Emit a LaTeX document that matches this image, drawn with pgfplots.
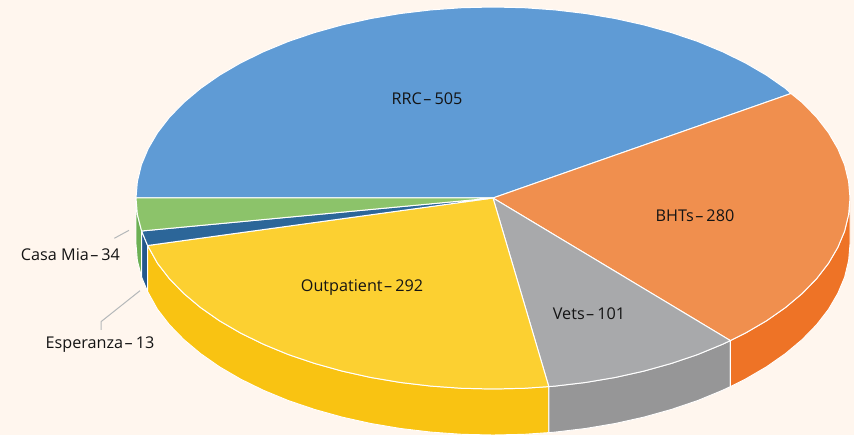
\documentclass[border=0pt]{standalone}
\usepackage{pgfplots}
\usepackage{fontspec}
\setmainfont{Open Sans}
\pgfplotsset{compat=1.18}
\definecolor{bg}{HTML}{FFF6EE}
\definecolor{cblue}{HTML}{5F9BD5}
\definecolor{corange}{HTML}{F08F4E}
\definecolor{corangew}{HTML}{EE7326}
\definecolor{cgray}{HTML}{A8A9AB}
\definecolor{cgrayw}{HTML}{969697}
\definecolor{cyellow}{HTML}{FCD031}
\definecolor{cyelloww}{HTML}{F9C312}
\definecolor{cdblue}{HTML}{2C6699}
\definecolor{cdbluew}{HTML}{24588C}
\definecolor{cgreen}{HTML}{8CC36A}
\definecolor{cgreenw}{HTML}{6DB054}
\definecolor{leader}{HTML}{B5B8BA}
\tikzset{lab/.style={font=\fontsize{16.2}{18}\selectfont, text=black!92, inner sep=0pt, anchor=center}}
\begin{document}
\begin{tikzpicture}
\begin{axis}[
  scale only axis, width=854pt, height=435pt,
  xmin=0, xmax=854, ymin=0, ymax=435, y dir=reverse,
  hide axis, clip=true,
  every axis plot/.append style={line join=round},
]
% background
\addplot[fill=bg, draw=none] coordinates {(0,0)(854,0)(854,435)(0,435)} --cycle;
% walls
\addplot[fill=cgreenw, draw=white, line width=0.9pt] coordinates {(136,198)(137.4,214.6)(141.6,231)(141.6,277)(137.4,260.6)(136,244)} --cycle;
\addplot[fill=cdbluew, draw=white, line width=0.9pt] coordinates {(141.6,231)(147.6,245.5)(147.6,291.5)(141.6,277)} --cycle;
\addplot[fill=cyelloww, draw=white, line width=0.9pt] coordinates {(548.8,386.6)(524.1,388.3)(493,389)(461.9,388.3)(431,386.1)(400.6,382.5)(370.9,377.5)(342.1,371.1)(314.5,363.4)(288.2,354.5)(263.5,344.3)(240.6,333.1)(219.5,320.8)(200.6,307.6)(183.8,293.5)(169.4,278.7)(157.5,263.3)(147.6,245.5)(147.6,291.5)(157.5,309.3)(169.4,324.7)(183.8,339.5)(200.6,353.6)(219.5,366.8)(240.6,379.1)(263.5,390.3)(288.2,400.5)(314.5,409.4)(342.1,417.1)(370.9,423.5)(400.6,428.5)(431,432.1)(461.9,434.3)(493,435)(524.1,434.3)(548.8,432.6)} --cycle;
\addplot[fill=cgrayw, draw=white, line width=0.9pt] coordinates {(730.4,340.6)(722.5,344.3)(697.8,354.5)(671.5,363.4)(643.9,371.1)(615.1,377.5)(585.4,382.5)(555,386.1)(548.8,386.6)(548.8,432.6)(555,432.1)(585.4,428.5)(615.1,423.5)(643.9,417.1)(671.5,409.4)(697.8,400.5)(722.5,390.3)(730.4,386.6)} --cycle;
\addplot[fill=corangew, draw=white, line width=0.9pt] coordinates {(850,198)(848.6,214.6)(844.6,231.2)(837.8,247.4)(828.5,263.3)(816.6,278.7)(802.2,293.5)(785.4,307.6)(766.5,320.8)(745.4,333.1)(730.4,340.6)(730.4,386.6)(745.4,379.1)(766.5,366.8)(785.4,353.6)(802.2,339.5)(816.6,324.7)(828.5,309.3)(837.8,293.4)(844.6,277.2)(848.6,260.6)(850,244)} --cycle;
% top face
\addplot[fill=cblue, draw=white, line width=1pt] coordinates {(493,198)(136,198)(137.4,181.4)(141.4,164.8)(148.2,148.6)(157.5,132.7)(169.4,117.3)(183.8,102.5)(200.6,88.4)(219.5,75.2)(240.6,62.9)(263.5,51.7)(288.2,41.5)(314.5,32.6)(342.1,24.9)(370.9,18.5)(400.6,13.5)(431,9.9)(461.9,7.7)(493,7)(524.1,7.7)(555,9.9)(585.4,13.5)(615.1,18.5)(643.9,24.9)(671.5,32.6)(697.8,41.5)(722.5,51.7)(745.4,62.9)(766.5,75.2)(785.4,88.4)(791,93.5)} --cycle;
\addplot[fill=corange, draw=white, line width=1pt] coordinates {(493,198)(791,93.5)(802.2,102.5)(816.6,117.3)(828.5,132.7)(837.8,148.6)(844.6,164.8)(848.6,181.4)(850,198)(848.6,214.6)(844.6,231.2)(837.8,247.4)(828.5,263.3)(816.6,278.7)(802.2,293.5)(785.4,307.6)(766.5,320.8)(745.4,333.1)(730.4,340.6)} --cycle;
\addplot[fill=cgray, draw=white, line width=1pt] coordinates {(493,198)(730.4,340.6)(722.5,344.3)(697.8,354.5)(671.5,363.4)(643.9,371.1)(615.1,377.5)(585.4,382.5)(555,386.1)(548.8,386.6)} --cycle;
\addplot[fill=cyellow, draw=white, line width=1pt] coordinates {(493,198)(548.8,386.6)(524.1,388.3)(493,389)(461.9,388.3)(431,386.1)(400.6,382.5)(370.9,377.5)(342.1,371.1)(314.5,363.4)(288.2,354.5)(263.5,344.3)(240.6,333.1)(219.5,320.8)(200.6,307.6)(183.8,293.5)(169.4,278.7)(157.5,263.3)(147.6,245.5)} --cycle;
\addplot[fill=cdblue, draw=white, line width=1pt] coordinates {(493,198)(147.6,245.5)(141.6,231)} --cycle;
\addplot[fill=cgreen, draw=white, line width=1pt] coordinates {(493,198)(141.6,231)(137.4,214.6)(136,198)} --cycle;
% leaders
\addplot[draw=leader, line width=1pt] coordinates {(114.3,238.3)(129,230.3)};
\addplot[draw=leader, line width=1pt] coordinates {(101,330)(101,321.7)(140,290.7)};
% labels
\node[lab] at (axis cs:427,98.5) {RRC\kern1.5pt–\kern3pt505};
\node[lab] at (axis cs:695,215.5) {BHTs\kern1.5pt–\kern3pt280};
\node[lab] at (axis cs:589,313.5) {Vets\kern1.5pt–\kern3pt101};
\node[lab] at (axis cs:362,287.5) {Outpatient\kern1.5pt–\kern3pt292};
\node[lab] at (axis cs:70.5,254.5) {Casa Mia\kern1.5pt–\kern3pt34};
\node[lab] at (axis cs:100,344.5) {Esperanza\kern1.5pt–\kern3pt13};
\end{axis}
\end{tikzpicture}
\end{document}
